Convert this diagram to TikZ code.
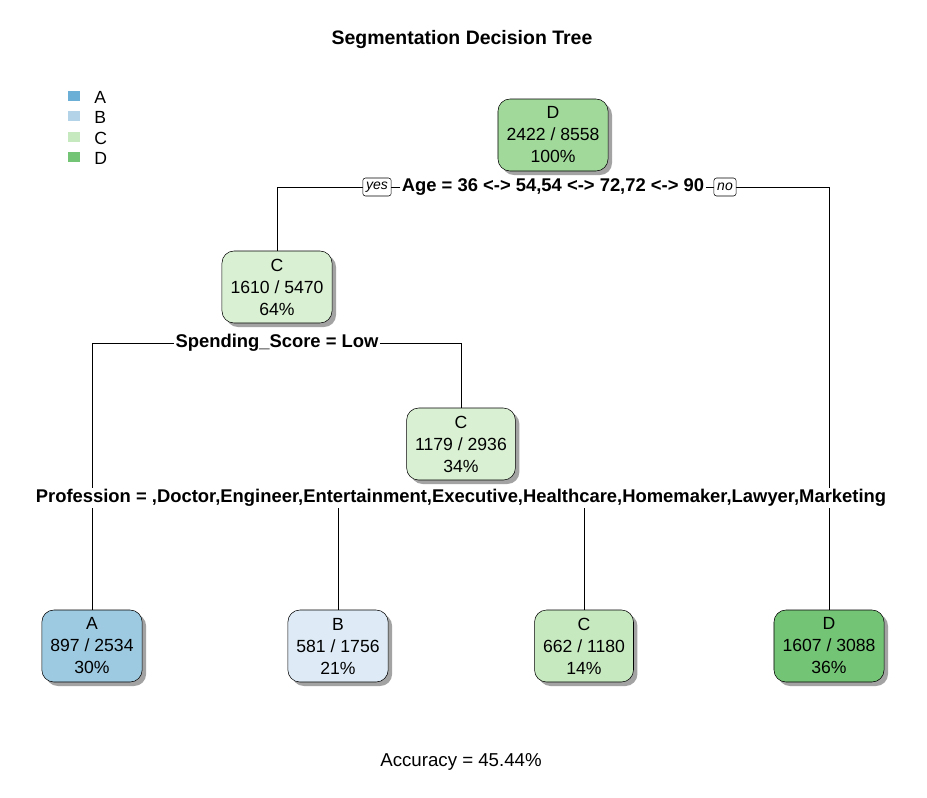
\documentclass[tikz,border=0pt]{standalone}
\usepackage{fontspec}
\setmainfont{Liberation Sans}
\usetikzlibrary{shadows,backgrounds}
\definecolor{rootD}{HTML}{A1D99B}
\definecolor{midC}{HTML}{D9F0D3}
\definecolor{leafA}{HTML}{9ECAE1}
\definecolor{leafB}{HTML}{DEEBF7}
\definecolor{leafC}{HTML}{C7E9C0}
\definecolor{leafD}{HTML}{74C476}
\definecolor{keyA}{HTML}{6BAED6}
\definecolor{keyB}{HTML}{B3D3E9}
\tikzset{
  tnode/.style={draw, rounded corners=9pt, minimum height=54pt,
    align=center, inner xsep=6.4pt, inner ysep=1pt, font=\fontsize{13.2}{16.5}\selectfont,
    drop shadow={shadow xshift=3pt, shadow yshift=-3pt, fill=black!45, opacity=0.8}},
  splitlbl/.style={fill=white, inner sep=1pt, font=\fontsize{13.8}{16}\selectfont\bfseries},
  yesno/.style={draw, fill=white, rounded corners=2pt, inner xsep=2.5pt, inner ysep=1.5pt,
    minimum height=13.5pt, font=\fontsize{10.5}{12}\selectfont\itshape},
  keybox/.style={minimum width=9pt, minimum height=7.5pt, inner sep=0pt},
  keylbl/.style={anchor=west, inner sep=0pt, font=\fontsize{13.2}{15}\selectfont}
}
\begin{document}
\begin{tikzpicture}[x=0.75pt,y=-0.75pt]
  \useasboundingbox (0,0) rectangle (927,797);
  \node[font=\fontsize{14.6}{17}\selectfont\bfseries] (title) at (462,40) {Segmentation Decision Tree};
  % legend
  \node[keybox,fill=keyA] (kA) at (74,96) {};
  \node[keybox,fill=keyB] (kB) at (74,116) {};
  \node[keybox,fill=leafC] (kC) at (74,137) {};
  \node[keybox,fill=leafD] (kD) at (74,157) {};
  \node[keylbl] (lA) at (94,97) {A};
  \node[keylbl] (lB) at (94,117) {B};
  \node[keylbl] (lC) at (94,138) {C};
  \node[keylbl] (lD) at (94,158) {D};
  % tree
  \node[tnode,fill=rootD] (root) at (553,135) {D\\2422 / 8558\\100\%};
  \node[splitlbl] (age) at (553,187) {Age = 36 <-> 54,54 <-> 72,72 <-> 90};
  \node[yesno] (yes) at (377,187) {yes};
  \node[yesno] (no) at (725,187) {no};
  \node[tnode,fill=midC] (c1) at (277,287) {C\\1610 / 5470\\64\%};
  \node[splitlbl] (spend) at (277,343) {Spending\_Score = Low};
  \node[tnode,fill=midC] (c2) at (461,444) {C\\1179 / 2936\\34\%};
  \node[splitlbl] (prof) at (461,498) {Profession = ,Doctor,Engineer,Entertainment,Executive,Healthcare,Homemaker,Lawyer,Marketing};
  \node[tnode,fill=leafA] (a3) at (92,646) {A\\897 / 2534\\30\%};
  \node[tnode,fill=leafB] (b3) at (338,646) {B\\581 / 1756\\21\%};
  \node[tnode,fill=leafC] (c3) at (584,646) {C\\662 / 1180\\14\%};
  \node[tnode,fill=leafD] (d3) at (829,646) {D\\1607 / 3088\\36\%};
  \node[font=\fontsize{14}{16}\selectfont] (acc) at (461,762) {Accuracy = 45.44\%};
  \begin{pgfonlayer}{background}
    \draw (age.west) -| (c1.north);
    \draw (age.east) -| (d3.north);
    \draw (spend.west) -| (a3.north);
    \draw (spend.east) -| (c2.north);
    \draw (b3.north) -- (b3.north |- prof.south);
    \draw (c3.north) -- (c3.north |- prof.south);
  \end{pgfonlayer}
\end{tikzpicture}
\end{document}
